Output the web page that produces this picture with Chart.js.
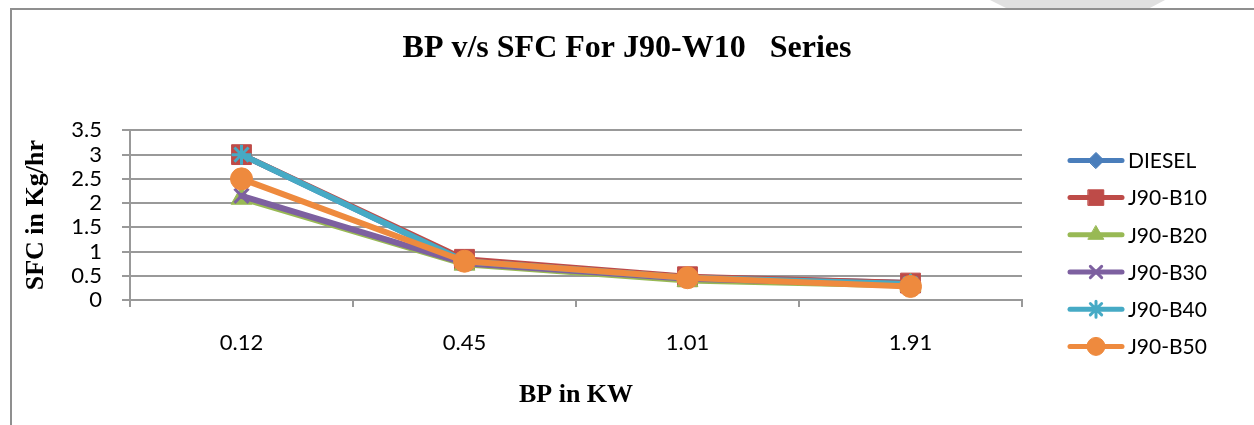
<!DOCTYPE html>
<html>
<head>
<meta charset="utf-8">
<title>BP v/s SFC For J90-W10 Series</title>
<script src="https://cdn.jsdelivr.net/npm/chart.js@4.4.1/dist/chart.umd.min.js"></script>
<style>
  html, body { margin: 0; padding: 0; background: #ffffff; }
  #wrap { position: relative; width: 1254px; height: 425px; }
  canvas { display: block; }
</style>
</head>
<body>
<div id="wrap"><canvas id="chart" width="1254" height="425"></canvas></div>
<script>
// Brake power (kW) categories
const bpLabels = ['0.12', '0.45', '1.01', '1.91'];

// Specific fuel consumption (kg/hr) for each blend
const diesel = [3.0, 0.80, 0.47, 0.35];
const j90b10 = [3.0, 0.84, 0.48, 0.35];
const j90b20 = [2.1, 0.74, 0.40, 0.30];
const j90b30 = [2.15, 0.76, 0.44, 0.32];
const j90b40 = [3.0, 0.80, 0.46, 0.33];
const j90b50 = [2.5, 0.80, 0.46, 0.28];

const seriesNames = ['DIESEL', 'J90-B10', 'J90-B20', 'J90-B30', 'J90-B40', 'J90-B50'];
const seriesValues = [diesel, j90b10, j90b20, j90b30, j90b40, j90b50];

// y-axis range
const yMin = 0, yMax = 3.5, yStep = 0.5;

const colors = ['#4A7EBB', '#BE4B48', '#98B954', '#7D60A0', '#46AAC5', '#EE8A3E'];
const pointStyles = ['rectRot', 'rect', 'triangle', 'crossRot', 'star', 'circle'];
const pointRadii = [9, 14, 12, 10, 10, 11];
const pointBorders = [1, 1, 1, 3, 3, 1];
const legendRadii = [8, 11, 9, 8, 8, 9];

const serifBold = { family: '"Liberation Serif", "Times New Roman", serif', weight: 'bold' };
const sansFamily = 'Lato, Calibri, "Open Sans", sans-serif';

const datasets = seriesNames.map((name, i) => ({
  label: name,
  data: seriesValues[i],
  borderColor: colors[i],
  backgroundColor: colors[i],
  borderWidth: 6,
  pointStyle: pointStyles[i],
  pointRadius: pointRadii[i],
  pointHoverRadius: pointRadii[i],
  pointBorderWidth: pointBorders[i],
  pointBackgroundColor: colors[i],
  pointBorderColor: colors[i],
  borderJoinStyle: 'round',
  borderCapStyle: 'round',
  tension: 0,
  yAxisID: 'y',
  // later series sit on top of earlier ones
  order: seriesNames.length - 1 - i
}));

// Page frame and background
const framePlugin = {
  id: 'frame',
  beforeDraw(chart) {
    const ctx = chart.ctx;
    ctx.save();
    ctx.fillStyle = '#ffffff';
    ctx.fillRect(0, 0, chart.width, chart.height);
    ctx.fillStyle = '#e0e0e0';
    ctx.beginPath();
    ctx.moveTo(990, 0);
    ctx.lineTo(1165, 0);
    ctx.lineTo(1148, 9);
    ctx.lineTo(1008, 9);
    ctx.closePath();
    ctx.fill();
    ctx.strokeStyle = '#8f8f8f';
    ctx.lineWidth = 2;
    ctx.beginPath();
    ctx.moveTo(11, chart.height);
    ctx.lineTo(11, 9);
    ctx.lineTo(chart.width, 9);
    ctx.stroke();
    ctx.restore();
  }
};

// Legend drawn as line + marker samples to the right of the plot
const sideLegend = {
  id: 'sideLegend',
  afterDraw(chart, args, opts) {
    const ctx = chart.ctx;
    const area = chart.chartArea;
    const x0 = area.right + opts.offsetX;
    chart.data.datasets.forEach((ds, i) => {
      const y = area.top + opts.offsetY + i * opts.spacing;
      ctx.save();
      ctx.strokeStyle = ds.borderColor;
      ctx.lineWidth = 5;
      ctx.lineCap = 'round';
      ctx.beginPath();
      ctx.moveTo(x0, y);
      ctx.lineTo(x0 + opts.lineLength, y);
      ctx.stroke();
      ctx.fillStyle = ds.backgroundColor;
      ctx.strokeStyle = ds.borderColor;
      ctx.lineWidth = ds.pointBorderWidth;
      Chart.helpers.drawPoint(ctx, {
        pointStyle: ds.pointStyle,
        radius: legendRadii[i],
        borderWidth: ds.pointBorderWidth,
        rotation: 0
      }, x0 + opts.lineLength / 2, y);
      ctx.fillStyle = '#000000';
      ctx.font = opts.font;
      ctx.textBaseline = 'middle';
      ctx.textAlign = 'left';
      ctx.fillText(ds.label, x0 + opts.lineLength + 6, y + 1);
      ctx.restore();
    });
  }
};

new Chart(document.getElementById('chart'), {
  type: 'line',
  data: { labels: bpLabels, datasets },
  plugins: [framePlugin, sideLegend],
  options: {
    responsive: false,
    animation: false,
    events: [],
    layout: { padding: 0 },
    plugins: {
      legend: { display: false },
      tooltip: { enabled: false },
      title: {
        display: true,
        text: 'BP v/s SFC For J90-W10   Series',
        color: '#000000',
        font: { ...serifBold, size: 32, lineHeight: 1.2 },
        padding: { top: 30, bottom: 62 }
      },
      sideLegend: {
        offsetX: 48,
        offsetY: 30,
        spacing: 37.2,
        lineLength: 52,
        font: '21px ' + sansFamily
      }
    },
    scales: {
      x: {
        type: 'category',
        offset: true,
        afterFit(scale) { scale.height = 125; },
        grid: {
          display: true,
          offset: true,
          drawOnChartArea: false,
          drawTicks: true,
          tickLength: 7,
          color: '#999999',
          lineWidth: 2
        },
        border: { display: true, color: '#999999', width: 2 },
        ticks: {
          color: '#000000',
          padding: 23,
          maxRotation: 0,
          font: { family: sansFamily, size: 22 }
        },
        title: {
          display: true,
          text: 'BP in KW',
          color: '#000000',
          font: { ...serifBold, size: 26, lineHeight: 1.2 },
          padding: { top: 10, bottom: 14 }
        }
      },
      y: {
        position: 'left',
        min: yMin,
        max: yMax,
        afterFit(scale) { scale.width = 130; },
        grid: {
          color: '#999999',
          lineWidth: 2,
          drawTicks: true,
          tickLength: 8
        },
        border: { display: true, color: '#999999', width: 2 },
        ticks: {
          stepSize: yStep,
          autoSkip: false,
          color: '#000000',
          padding: 20,
          font: { family: sansFamily, size: 22 },
          callback: (value) => String(Math.round(value * 10) / 10)
        },
        title: {
          display: true,
          text: 'SFC in Kg/hr',
          color: '#000000',
          font: { ...serifBold, size: 26, lineHeight: 1.2 },
          padding: { top: 21, bottom: 4 }
        }
      },
      // empty right-hand band that holds the legend
      legendBand: {
        type: 'linear',
        position: 'right',
        display: true,
        afterFit(scale) { scale.width = 232; },
        grid: { display: false, drawOnChartArea: false },
        border: { display: false },
        ticks: { display: false }
      }
    }
  }
});
</script>
</body>
</html>
